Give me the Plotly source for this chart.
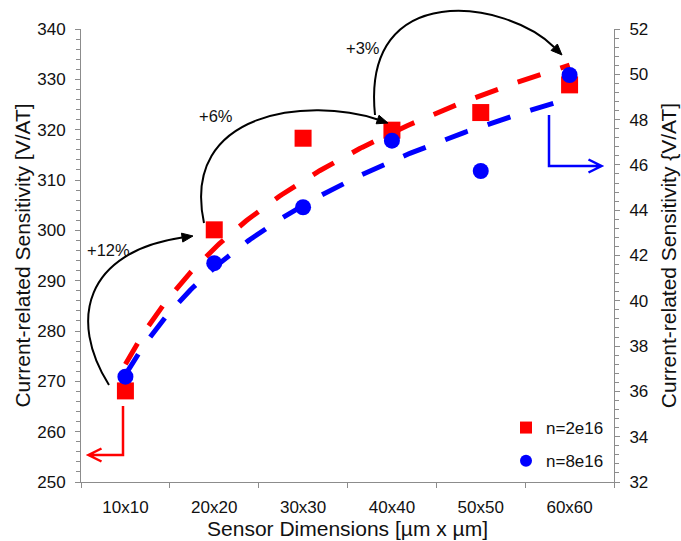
import numpy as np
import plotly.graph_objects as go

# ---- data -------------------------------------------------------------
categories = ["10x10", "20x20", "30x30", "40x40", "50x50", "60x60"]
sens_n2e16 = [268.1, 300.1, 318.3, 319.9, 323.4, 328.9]   # left axis [V/AT]
sens_n8e16 = [36.65, 41.66, 44.13, 47.07, 45.73, 49.97]   # right axis {V/AT]
gain_labels = ["+12%", "+6%", "+3%"]

# ---- geometry ---------------------------------------------------------
W, H = 681, 541
L, R, T, B = 81, 614, 29, 482          # plot area in pixels
FONT = "Liberation Sans, Arial, sans-serif"
RED, BLUE, AXIS = "#ff0000", "#0000ff", "#8c8c8c"

pos = np.arange(1, len(categories) + 1)


def paper(px, py):
    return (px - L) / (R - L), (B - py) / (B - T)


def log_fit(x, y):
    b, a = np.polyfit(np.log(x), y, 1)
    xs = np.linspace(x.min(), x.max(), 200)
    return xs, a + b * np.log(xs)


fig = go.Figure()

# logarithmic trend lines + measured points
for vals, color, sym, size, name, yax in [
    (sens_n2e16, RED, "square", 17, "n=2e16", "y"),
    (sens_n8e16, BLUE, "circle", 16, "n=8e16", "y2"),
]:
    xs, ys = log_fit(pos.astype(float), np.array(vals))
    fig.add_trace(go.Scatter(
        x=xs, y=ys, mode="lines", yaxis=yax, showlegend=False,
        hoverinfo="skip",
        line=dict(color=color, width=5, dash="24px,21px"),
    ))
    fig.add_trace(go.Scatter(
        x=pos, y=vals, mode="markers", yaxis=yax, name=name,
        legendgroup=name,
        marker=dict(color=color, symbol=sym, size=size, line=dict(width=0)),
        text=categories,
    ))

shapes = []
annotations = []


def svg_path(points):
    segs = []
    for i, (px, py) in enumerate(points):
        x, y = paper(px, py)
        segs.append(("M" if i == 0 else "L") + f"{x:.5f},{y:.5f}")
    return " ".join(segs)


def curved_arrow(p0, p1, p2, p3, head_len=11, head_half=4.5):
    p0, p1, p2, p3 = map(np.array, (p0, p1, p2, p3))
    d = (p3 - p2) / np.linalg.norm(p3 - p2)
    base = p3 - head_len * d
    c = [paper(*p) for p in (p0, p1, p2, base)]
    path = (f"M{c[0][0]:.5f},{c[0][1]:.5f} C{c[1][0]:.5f},{c[1][1]:.5f} "
            f"{c[2][0]:.5f},{c[2][1]:.5f} {c[3][0]:.5f},{c[3][1]:.5f}")
    shapes.append(dict(type="path", xref="paper", yref="paper", path=path,
                       line=dict(color="black", width=2)))
    n = np.array([-d[1], d[0]])
    tri = [p3, base + head_half * n, base - head_half * n]
    shapes.append(dict(type="path", xref="paper", yref="paper",
                       path=svg_path(tri) + " Z", fillcolor="black",
                       line=dict(color="black", width=1)))


curved_arrow((109, 385), (68, 320), (85, 252), (193, 236))
curved_arrow((204, 223), (180, 110), (310, 97), (388, 123))
curved_arrow((375, 115), (361, -22), (507, 0), (562, 55))

for text, (px, py) in zip(gain_labels, [(108, 250), (216, 116), (363, 48)]):
    x, y = paper(px, py)
    annotations.append(dict(text=text, x=x, y=y, xref="paper", yref="paper",
                            showarrow=False, xanchor="center", yanchor="middle",
                            font=dict(family=FONT, size=16.5, color="#111")))

# axis pointers: red -> left axis, blue -> right axis
shapes.append(dict(type="path", xref="paper", yref="paper",
                   path=svg_path([(123, 406), (123, 455), (89, 455)]) + " " +
                   svg_path([(101.5, 448.5), (88.5, 455), (101.5, 461.5)]),
                   line=dict(color=RED, width=2.5)))
shapes.append(dict(type="path", xref="paper", yref="paper",
                   path=svg_path([(549, 115), (549, 166), (601, 166)]) + " " +
                   svg_path([(588.5, 159.5), (601.5, 166), (588.5, 172.5)]),
                   line=dict(color=BLUE, width=2.5)))

tick_font = dict(family=FONT, size=17, color="#111")
title_font = dict(family=FONT, size=21, color="#111")

fig.update_layout(
    width=W, height=H, autosize=False,
    margin=dict(l=L, r=W - R, t=T, b=H - B, pad=0),
    paper_bgcolor="white", plot_bgcolor="white",
    font=dict(family=FONT, color="#111"),
    shapes=shapes, annotations=annotations,
    xaxis=dict(
        range=[0.5, 6.5], tickmode="array", tickvals=pos, ticktext=categories,
        ticks="", showgrid=False, zeroline=False, showline=True,
        linecolor=AXIS, linewidth=1, tickfont=tick_font, ticklabelstandoff=10,
        minor=dict(tickmode="array", tickvals=np.arange(0.5, 7, 1.0),
                   ticks="outside", ticklen=5, tickcolor=AXIS, showgrid=False),
        title=dict(text="Sensor Dimensions [µm x µm]", font=title_font,
                   standoff=4),
        automargin=False,
    ),
    yaxis=dict(
        range=[250, 340], dtick=10, ticks="outside", ticklen=5,
        tickcolor=AXIS, showgrid=False, zeroline=False, showline=True,
        linecolor=AXIS, linewidth=1, tickfont=tick_font, ticklabelstandoff=6,
        minor=dict(dtick=2, ticks="outside", ticklen=4, tickcolor=AXIS,
                   showgrid=False),
        title=dict(text="Current-related Sensitivity [V/AT]", font=title_font,
                   standoff=0),
        automargin=False,
    ),
    yaxis2=dict(
        range=[32, 52], dtick=2, overlaying="y", side="right",
        ticks="outside", ticklen=5, tickcolor=AXIS, showgrid=False,
        zeroline=False, showline=True, linecolor=AXIS, linewidth=1,
        tickfont=tick_font, ticklabelstandoff=6,
        minor=dict(dtick=0.4, ticks="outside", ticklen=4, tickcolor=AXIS,
                   showgrid=False),
        title=dict(text="Current-related Sensitivity {V/AT]", font=title_font,
                   standoff=13),
        automargin=False,
    ),
    legend=dict(
        x=paper(506, 0)[0], xanchor="left", y=paper(0, 410)[1], yanchor="top",
        bgcolor="rgba(0,0,0,0)", borderwidth=0, itemsizing="constant",
        font=dict(family=FONT, size=17, color="#111"), tracegroupgap=8,
    ),
)

fig.write_html("out.html")
